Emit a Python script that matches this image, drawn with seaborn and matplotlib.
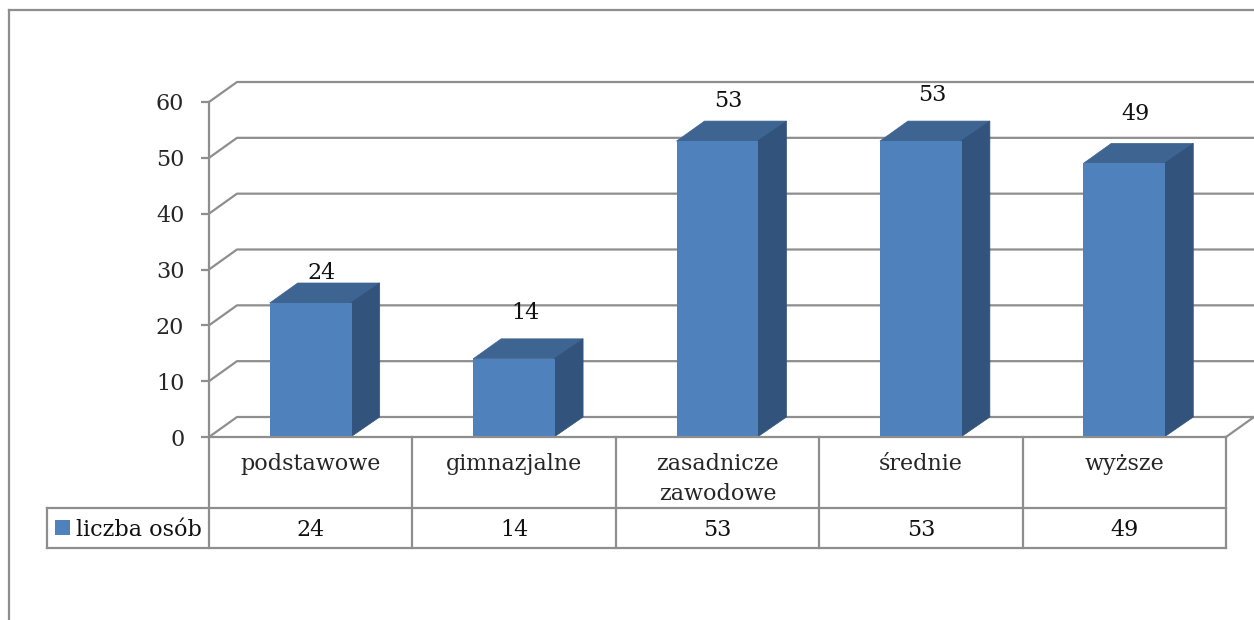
import matplotlib
matplotlib.use('Agg')
import matplotlib.pyplot as plt
import seaborn as sns
from matplotlib.lines import Line2D
from matplotlib.patches import Polygon, Rectangle
from matplotlib.transforms import Affine2D, blended_transform_factory

categories = ['podstawowe', 'gimnazjalne', 'zasadnicze\nzawodowe', 'średnie', 'wyższe']
values = [24, 14, 53, 53, 49]
series_name = 'liczba osób'
y_ticks = [0, 10, 20, 30, 40, 50, 60]

W, H = 1254, 620
GRAY = '#8e8e8e'
FRONT, TOP, SIDE = '#4f81bd', '#3e6491', '#32547c'
DX, DY = 28, 20
FS = 16
LW = 1.6

sns.set_style('white')
plt.rcParams['font.family'] = ['DejaVu Serif']
plt.rcParams['text.color'] = '#111111'

fig = plt.figure(figsize=(W / 100, H / 100), dpi=100)
L, R, T, B = 209, 1226, 102, 437
ax = fig.add_axes([L / W, 1 - B / H, (R - L) / W, (B - T) / H])
ax.patch.set_alpha(0)

sns.barplot(x=categories, y=values, color=FRONT, saturation=1, width=0.403, ax=ax, zorder=3)
for bar in ax.patches:
    bar.set_linewidth(0)

ax.set_xlim(-0.5, 4.5)
ax.set_ylim(0, 60)
ax.set_yticks(y_ticks)
ax.set_ylabel('')
ax.tick_params(axis='y', length=5.8, width=LW, color=GRAY, pad=12, labelsize=FS, left=True)
ax.tick_params(axis='x', length=0, pad=11.5, labelsize=FS)
for label in ax.get_xticklabels():
    label.set_linespacing(1.5)
for side in ['top', 'right', 'bottom']:
    ax.spines[side].set_visible(False)
ax.spines['left'].set_color(GRAY)
ax.spines['left'].set_linewidth(LW)

# pixel coords measured from the top left corner
px = Affine2D().scale(1, -1).translate(0, H)
x_px = blended_transform_factory(ax.transData, px)


def line(xs, ys, tr=px, z=1, ax_=ax):
    ax_.add_line(Line2D(xs, ys, color=GRAY, lw=LW, transform=tr, zorder=z, clip_on=False,
                        solid_capstyle='projecting'))


# walls and gridlines
for t in y_ticks:
    yy = ax.transData.transform((0, t))[1]
    yy = H - yy
    line([L, L + DX, W + 5], [yy, yy - DY, yy - DY])
line([R, R + DX], [B, B - DY])

# 3d faces of the bars
for bar in ax.patches[:len(values)]:
    (x0, y0), (x1, y1) = ax.transData.transform([(bar.get_x(), 0),
                                                  (bar.get_x() + bar.get_width(), bar.get_height())])
    ax.add_patch(Polygon([(x0, y1), (x1, y1), (x1 + DX, y1 + DY), (x0 + DX, y1 + DY)],
                         closed=True, fc=TOP, ec=TOP, lw=0.5, transform=None, zorder=2, clip_on=False))
    ax.add_patch(Polygon([(x1 - 1, y0), (x1 + DX, y0 + DY), (x1 + DX, y1 + DY), (x1 - 1, y1)],
                         closed=True, fc=SIDE, ec=SIDE, lw=0.5, transform=None, zorder=2, clip_on=False))

# data labels, hand placed in the original chart
label_lift = [30, 46, 40, 46, 49]
for i, v in enumerate(values):
    ax.annotate(str(v), (i, v), xytext=(8, label_lift[i] * 0.72),
                textcoords='offset points', ha='center', va='center', fontsize=FS, zorder=5)

# data table under the axis
for xv in [i - 0.5 for i in range(len(values) + 1)]:
    line([xv, xv], [B, 548], tr=x_px, z=4)
line([L, R], [B, B], z=4)
line([47, R], [508, 508], z=4)
line([47, R], [548, 548], z=4)
line([47, 47], [508, 548], z=4)
ax.add_patch(Rectangle((55, 520), 15, 15, fc=FRONT, lw=0, transform=px, clip_on=False))
ax.text(76, 530, series_name, transform=px, ha='left', va='center', fontsize=FS)
for i, v in enumerate(values):
    ax.text(i, 530, str(v), transform=x_px, ha='center', va='center', fontsize=FS)

# outer chart frame, runs off the right and bottom of the image
line([9, W + 5], [10, 10])
line([9, 9], [10, H + 5])

fig.savefig('out.png', dpi=100, facecolor='white')
